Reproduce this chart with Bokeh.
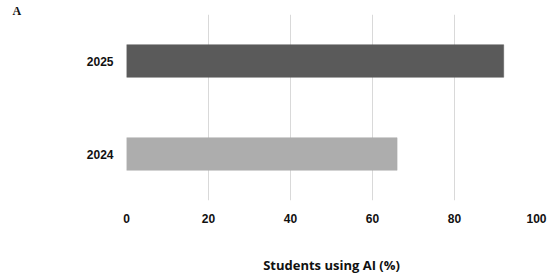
from bokeh.plotting import figure
from bokeh.models import FactorRange, Range1d, FixedTicker, Title, ColumnDataSource
from bokeh.embed import file_html
from bokeh.resources import INLINE

years = ["2024", "2025"]
values = [66, 92]
colors = ["#adadad", "#5a5a5a"]
x_ticks = [0, 20, 40, 60, 80, 100]
x_title = "Students using AI (%)"
panel_label = "A"

src = ColumnDataSource(dict(year=years, value=values, color=colors))

p = figure(width=548, height=276, output_backend="svg", toolbar_location=None,
           y_range=FactorRange(factors=years), x_range=Range1d(0, 100),
           min_border_left=126, min_border_right=12, min_border_top=14, min_border_bottom=75)

p.hbar(y="year", right="value", left=0, height=0.35, source=src,
       fill_color="color", line_color="color", line_width=0.5)

p.outline_line_color = None
p.background_fill_color = "white"
p.border_fill_color = "white"

p.xaxis.ticker = FixedTicker(ticks=x_ticks)
p.xaxis.axis_line_color = None
p.xaxis.major_tick_line_color = None
p.xaxis.minor_tick_line_color = None
p.xaxis.major_label_text_font = "Liberation Sans"
p.xaxis.major_label_text_font_style = "bold"
p.xaxis.major_label_text_font_size = "12px"
p.xaxis.major_label_text_color = "#111111"
p.xaxis.major_label_standoff = 7
p.xaxis.axis_label = x_title
p.xaxis.axis_label_text_font = "Open Sans"
p.xaxis.axis_label_text_font_style = "bold"
p.xaxis.axis_label_text_font_size = "13px"
p.xaxis.axis_label_text_color = "#111111"
p.xaxis.axis_label_standoff = 30

p.yaxis.axis_line_color = None
p.yaxis.major_tick_line_color = None
p.yaxis.minor_tick_line_color = None
p.yaxis.major_label_text_font = "Liberation Sans"
p.yaxis.major_label_text_font_style = "bold"
p.yaxis.major_label_text_font_size = "12px"
p.yaxis.major_label_text_color = "#111111"
p.yaxis.major_label_standoff = 7

p.xgrid.grid_line_color = "#d9d9d9"
p.xgrid.grid_line_width = 1
p.ygrid.grid_line_color = None

p.add_layout(Title(text=panel_label, align="left", offset=-114, standoff=-6,
                   text_font="Liberation Serif", text_font_style="bold",
                   text_font_size="12px", text_color="#111111"), "above")

open("out.html", "w").write(file_html(p, INLINE))
